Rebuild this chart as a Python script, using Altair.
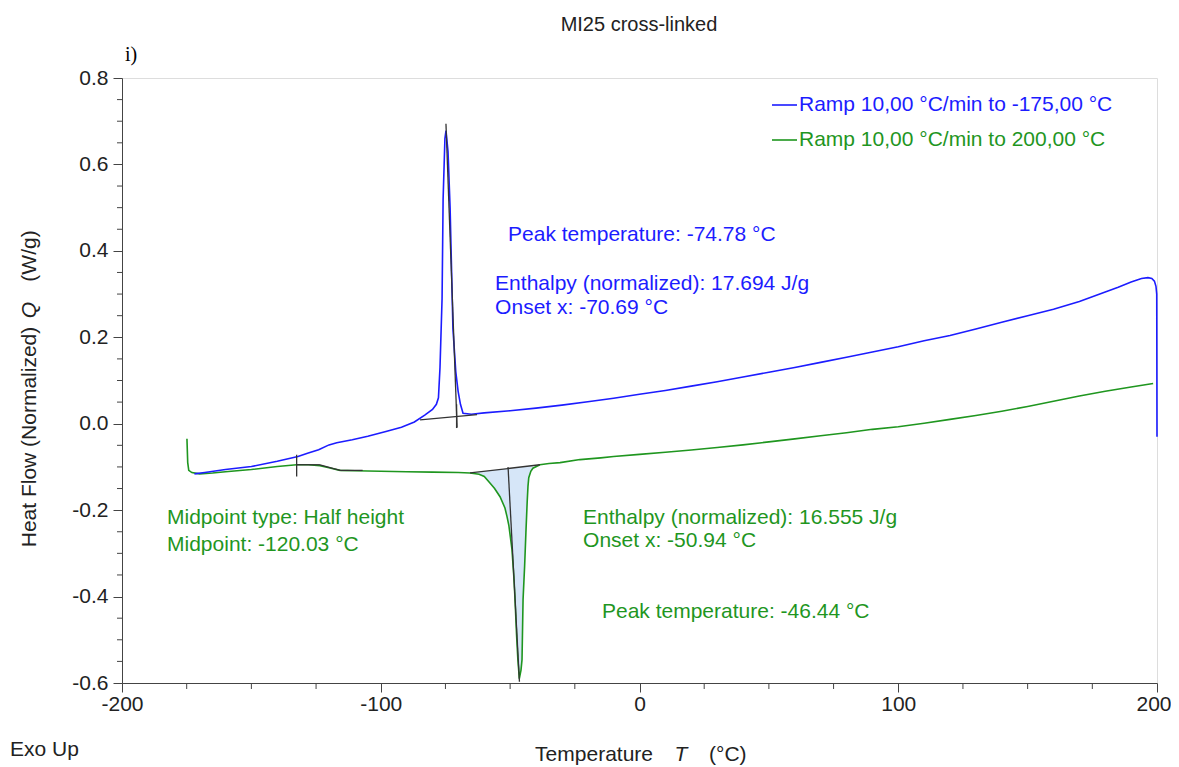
import altair as alt
import pandas as pd
import numpy as np

# ---------------- data ----------------
# Blue: cooling ramp (200 -> -175 C), in recording order
blue_T = [200.0, 199.9, 199.6, 199.0, 198.0, 196.5, 194.0, 190.0, 185.0, 180.0, 170.0, 160.0,
          150.0, 140.0, 130.0, 120.0, 110.0, 100.0, 90.0, 80.0, 70.0, 60.0, 50.0, 40.0, 30.0,
          20.0, 10.0, 0.0, -10.0, -20.0, -30.0, -40.0, -50.0, -60.0, -65.0, -68.2, -69.2,
          -70.1, -71.0, -72.1, -73.2, -74.0, -74.78, -75.2, -75.9, -76.3, -77.1, -77.7,
          -78.5, -80.0, -83.0, -87.0, -92.0, -98.0, -105.0, -111.0, -117.0, -120.0, -124.0,
          -128.0, -132.0, -140.0, -150.0, -160.0, -168.0, -172.0]
blue_Q = [-0.030, 0.300, 0.318, 0.330, 0.336, 0.338, 0.336, 0.328, 0.316, 0.305, 0.283, 0.265,
          0.250, 0.235, 0.219, 0.204, 0.192, 0.178, 0.166, 0.154, 0.142, 0.130, 0.119, 0.108,
          0.097, 0.087, 0.077, 0.068, 0.059, 0.051, 0.043, 0.036, 0.030, 0.025, 0.022, 0.024,
          0.045, 0.075, 0.120, 0.220, 0.500, 0.630, 0.678, 0.660, 0.520, 0.290, 0.130, 0.060,
          0.045, 0.033, 0.020, 0.004, -0.008, -0.018, -0.029, -0.037, -0.044, -0.049, -0.060,
          -0.068, -0.076, -0.087, -0.099, -0.106, -0.113, -0.116]

# Green: heating ramp (-175 -> 200 C), in recording order
green_T = [-174.9, -174.6, -174.2, -173.0, -170.0, -165.0, -160.0, -150.0, -140.0, -132.5,
           -128.0, -123.5, -120.0, -115.7, -110.0, -100.0, -90.0, -80.0, -70.0, -65.5, -62.0,
           -60.0, -57.8, -56.0, -53.9, -52.0, -51.2, -50.5, -49.3, -48.5, -48.1, -47.5, -47.0,
           -46.44, -45.8, -45.4, -45.0, -44.4, -43.9, -43.4, -43.1, -42.8, -42.0, -41.2, -38.5,
           -35.0, -30.7, -23.0, -15.0, -10.0, 0.0, 10.0, 20.0, 30.0, 40.0, 50.0, 60.0, 70.0,
           80.0, 90.0, 100.0, 110.0, 120.0, 130.0, 140.0, 150.0, 160.0, 170.0, 180.0, 190.0, 198.5]
green_Q = [-0.035, -0.090, -0.108, -0.113, -0.116, -0.114, -0.111, -0.106, -0.099, -0.095,
           -0.095, -0.097, -0.102, -0.108, -0.109, -0.110, -0.111, -0.112, -0.113, -0.114, -0.117,
           -0.122, -0.137, -0.150, -0.169, -0.195, -0.215, -0.235, -0.290, -0.360, -0.407, -0.490,
           -0.546, -0.590, -0.570, -0.546, -0.407, -0.330, -0.252, -0.180, -0.145, -0.125, -0.110,
           -0.103, -0.095, -0.092, -0.090, -0.083, -0.079, -0.076, -0.071, -0.066, -0.061, -0.055,
           -0.049, -0.042, -0.035, -0.028, -0.021, -0.013, -0.007, 0.001, 0.010, 0.019, 0.029,
           0.040, 0.052, 0.064, 0.075, 0.085, 0.093]

# Integration baseline under the green melting peak (endpoints)
fill_base_T = [-65.5, -38.5]
fill_base_Q = [-0.114, -0.095]

# Black evaluation lines (T1, Q1, T2, Q2)
seg_T1 = [-84.8, -74.8, -132.5, -123.5, -115.7, -132.5, -65.5, -50.8, -70.69]
seg_Q1 = [0.009, 0.694, -0.095, -0.095, -0.108, -0.072, -0.114, -0.100, 0.045]
seg_T2 = [-62.8, -70.5, -123.5, -115.7, -107.0, -132.5, -38.5, -46.4, -70.69]
seg_Q2 = [0.021, -0.009, -0.095, -0.108, -0.108, -0.122, -0.095, -0.597, -0.010]

# Axis ticks
x_major = [-200, -100, 0, 100, 200]
x_minor = [-175, -150, -125, -75, -50, -25, 25, 50, 75, 125, 150, 175]
y_major = [-0.6, -0.4, -0.2, 0.0, 0.2, 0.4, 0.6, 0.8]
y_minor = [-0.55, -0.5, -0.45, -0.35, -0.3, -0.25, -0.15, -0.1, -0.05, 0.05, 0.1, 0.15,
           0.25, 0.3, 0.35, 0.45, 0.5, 0.55, 0.65, 0.7, 0.75]

# Annotation texts (anchored in data coordinates)
ann_text = ["Peak temperature: -74.78 °C", "Enthalpy (normalized): 17.694 J/g",
            "Onset x: -70.69 °C", "Midpoint type: Half height", "Midpoint: -120.03 °C",
            "Enthalpy (normalized): 16.555 J/g", "Onset x: -50.94 °C",
            "Peak temperature: -46.44 °C"]
ann_T = [-50.8, -55.8, -55.8, -182.6, -182.6, -21.8, -21.8, -14.5]
ann_Q = [0.4375, 0.324, 0.2685, -0.2176, -0.280, -0.2176, -0.2708, -0.435]
ann_series = ["blue", "blue", "blue", "green", "green", "green", "green", "green"]

legend_labels = ["Ramp 10,00 °C/min to -175,00 °C", "Ramp 10,00 °C/min to 200,00 °C"]

BLUE = "#1c1cff"
GREEN = "#1f961f"
FONT = "Liberation Sans"
FS = 21
W, H = 1035, 605

# ---------------- tables ----------------
blue_df = pd.DataFrame({"T": blue_T, "Q": blue_Q, "i": range(len(blue_T))})
green_df = pd.DataFrame({"T": green_T, "Q": green_Q, "i": range(len(green_T))})
fill_df = green_df[(green_df["T"] >= fill_base_T[0]) & (green_df["T"] <= -41.0)].copy()
fill_df["B"] = np.interp(fill_df["T"], fill_base_T, fill_base_Q)
fill_df = fill_df[["T", "Q", "B"]]
seg_df = pd.DataFrame({"T1": seg_T1, "Q1": seg_Q1, "T2": seg_T2, "Q2": seg_Q2})
ann_df = pd.DataFrame({"t": ann_text, "T": ann_T, "Q": ann_Q, "s": ann_series})

xs = alt.Scale(domain=[-200, 200], nice=False, zero=False)
ys = alt.Scale(domain=[-0.6, 0.8], nice=False, zero=False)

x_axis = alt.Axis(values=x_major, format="d", title=None, grid=False, tickSize=9,
                  tickColor="#444", domainColor="#444", labelFontSize=FS, labelFont=FONT,
                  labelColor="#222", labelPadding=1, labelFlush=False,
                  labelAlign=alt.condition("datum.value == 200", alt.value("right"),
                                           alt.value("center")),
                  labelOffset=alt.condition("datum.value == 200", alt.value(14), alt.value(0)),
                  labelExpr="replace(datum.label, '\u2212', '-')")
y_axis = alt.Axis(values=y_major, format=".1f", title=None, grid=False, tickSize=9,
                  tickColor="#444", domainColor="#444", labelFontSize=FS, labelFont=FONT,
                  labelColor="#222", labelPadding=5, labelFlush=False,
                  labelExpr="replace(datum.label, '\u2212', '-')")

fill = alt.Chart(fill_df).mark_area(color="#d6e6f8", opacity=1).encode(
    x=alt.X("T:Q", scale=xs, axis=x_axis),
    y=alt.Y("Q:Q", scale=ys, axis=y_axis, stack=None),
    y2="B:Q",
)

green_line = alt.Chart(green_df).mark_line(color=GREEN, strokeWidth=1.6).encode(
    x=alt.X("T:Q", scale=xs), y=alt.Y("Q:Q", scale=ys), order="i:Q")
blue_line = alt.Chart(blue_df).mark_line(color=BLUE, strokeWidth=1.6).encode(
    x=alt.X("T:Q", scale=xs), y=alt.Y("Q:Q", scale=ys), order="i:Q")

segs = alt.Chart(seg_df).mark_rule(color="#333", strokeWidth=1.3).encode(
    x=alt.X("T1:Q", scale=xs), y=alt.Y("Q1:Q", scale=ys), x2="T2:Q", y2="Q2:Q")

xminor = alt.Chart(pd.DataFrame({"v": x_minor})).mark_rule(color="#444").encode(
    x=alt.X("v:Q", scale=xs), y=alt.value(H), y2=alt.value(H + 6))
yminor = alt.Chart(pd.DataFrame({"v": y_minor})).mark_rule(color="#444").encode(
    y=alt.Y("v:Q", scale=ys), x=alt.value(-5), x2=alt.value(0))

ann = alt.Chart(ann_df).mark_text(align="left", baseline="middle", fontSize=FS, font=FONT).encode(
    x=alt.X("T:Q", scale=xs), y=alt.Y("Q:Q", scale=ys), text="t:N",
    color=alt.Color("s:N", scale=alt.Scale(domain=["blue", "green"], range=[BLUE, GREEN]),
                    legend=None))


def label(text, px, py, size=FS, color="#222", align="center", angle=0, font=FONT,
          style="normal"):
    kw = dict(align=align, baseline="middle", fontSize=size, color=color, font=font,
              fontStyle=style)
    if angle:
        kw["angle"] = angle
    return alt.Chart(pd.DataFrame({"t": [text]})).mark_text(**kw).encode(
        text="t:N", x=alt.value(px), y=alt.value(py))


def key_line(px1, px2, py, color):
    return alt.Chart(pd.DataFrame({"a": [0]})).mark_rule(color=color, strokeWidth=1.6).encode(
        x=alt.value(px1), x2=alt.value(px2), y=alt.value(py))


L, T0 = 122, 78  # plot origin on the page (for placing outer texts)
outer = [
    label("MI25 cross-linked", 639 - L, 25 - T0, size=20),
    label("i)", 131 - L, 55 - T0, size=20, font="Liberation Serif", color="#000"),
    label("Exo Up", 10 - L, 750 - T0, align="left"),
    label("Temperature", 653 - L, 755 - T0, align="right"),
    label("T", 681 - L, 755 - T0, style="italic"),
    label("(°C)", 709 - L, 755 - T0, align="left"),
    label("Heat Flow (Normalized)", 30 - L, 437 - T0, angle=270),
    label("Q", 30 - L, 310 - T0, angle=270, style="italic"),
    label("(W/g)", 30 - L, 256 - T0, angle=270),
    key_line(772 - L, 797 - L, 105 - T0, BLUE),
    key_line(772 - L, 797 - L, 140 - T0, GREEN),
    label(legend_labels[0], 799 - L, 105 - T0, color=BLUE, align="left"),
    label(legend_labels[1], 799 - L, 140 - T0, color=GREEN, align="left"),
]

chart = alt.layer(fill, green_line, blue_line, segs, xminor, yminor, ann, *outer).properties(
    width=W, height=H,
    autosize=alt.AutoSizeParams(type="none"),
    padding={"left": L - 8, "top": T0 - 8, "right": 14, "bottom": 84},
).configure_view(stroke="#888", strokeWidth=1.2).configure(background="white")

chart.save("out.html", embed_options={"renderer": "svg", "actions": False})
